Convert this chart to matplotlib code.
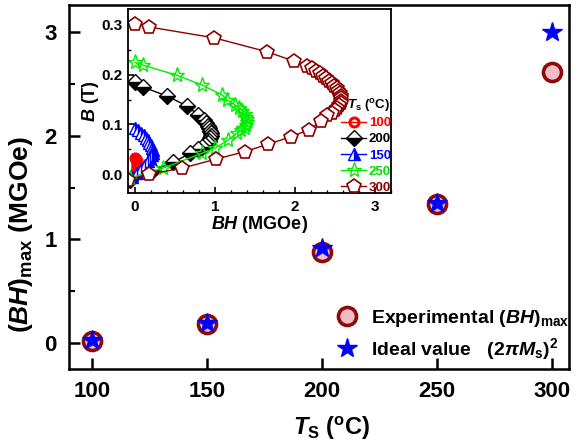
import matplotlib
matplotlib.use('Agg')
import matplotlib.pyplot as plt
from matplotlib.ticker import MultipleLocator, FixedLocator

plt.rcParams['font.family'] = ['Liberation Sans', 'DejaVu Sans']
plt.rcParams['font.weight'] = 'bold'
plt.rcParams['mathtext.fontset'] = 'custom'
plt.rcParams['mathtext.rm'] = 'Liberation Sans:bold'
plt.rcParams['mathtext.it'] = 'Liberation Sans:italic:bold'
plt.rcParams['mathtext.bf'] = 'Liberation Sans:bold'
plt.rcParams['mathtext.sf'] = 'Liberation Sans:bold'

# ---------------- main data ----------------
ts = [100, 150, 200, 250, 300]
bh_exp = [0.02, 0.18, 0.88, 1.34, 2.61]
bh_ideal = [0.03, 0.19, 0.92, 1.35, 3.00]

# ---------------- inset data (BH in MGOe, B in T) ----------------
bh_100 = [0.00, 0.01, 0.02, 0.025, 0.03, 0.03, 0.025, 0.02, 0.01, 0.00]
b_100 = [0.033, 0.030, 0.027, 0.024, 0.021, 0.017, 0.013, 0.009, 0.005, 0.001]

bh_200 = [0.00, 0.10, 0.40, 0.65, 0.79, 0.86, 0.89, 0.91, 0.93, 0.94, 0.95,
          0.95, 0.94, 0.93, 0.91, 0.88, 0.84, 0.79, 0.69, 0.48, 0.23, -0.06]
b_200 = [0.185, 0.175, 0.157, 0.137, 0.119, 0.108, 0.102, 0.097, 0.092, 0.087, 0.082,
         0.077, 0.072, 0.067, 0.062, 0.058, 0.054, 0.050, 0.042, 0.024, 0.008, -0.012]

bh_150 = [0.00, 0.04, 0.08, 0.11, 0.14, 0.16, 0.18, 0.20, 0.21, 0.22, 0.22,
          0.21, 0.19, 0.16, 0.12, 0.07, 0.02, -0.04]
b_150 = [0.093, 0.088, 0.083, 0.078, 0.073, 0.068, 0.063, 0.058, 0.053, 0.048, 0.043,
         0.038, 0.033, 0.026, 0.018, 0.010, 0.003, -0.006]

bh_250 = [0.00, 0.10, 0.52, 0.84, 1.09, 1.15, 1.25, 1.30, 1.34, 1.37, 1.39,
          1.40, 1.40, 1.39, 1.37, 1.33, 1.27, 1.16, 1.00, 0.84, 0.35, -0.06]
b_250 = [0.225, 0.219, 0.199, 0.179, 0.159, 0.149, 0.139, 0.133, 0.127, 0.121, 0.115,
         0.110, 0.104, 0.098, 0.093, 0.088, 0.082, 0.068, 0.052, 0.042, 0.012, -0.008]

bh_300 = [0.00, 0.17, 0.99, 1.65, 1.99, 2.15, 2.21, 2.26, 2.31, 2.35, 2.39, 2.43,
          2.46, 2.49, 2.52, 2.54, 2.56, 2.57, 2.58, 2.58, 2.57, 2.55, 2.53, 2.50,
          2.46, 2.40, 2.33, 2.17, 1.95, 1.66, 1.37, 1.01, 0.59, 0.18, -0.09]
b_300 = [0.302, 0.296, 0.274, 0.246, 0.227, 0.218, 0.213, 0.208, 0.203, 0.198, 0.193, 0.188,
         0.183, 0.178, 0.173, 0.168, 0.163, 0.158, 0.153, 0.148, 0.143, 0.138, 0.133, 0.128,
         0.123, 0.118, 0.106, 0.089, 0.075, 0.060, 0.045, 0.030, 0.012, 0.000, -0.012]

fig = plt.figure(figsize=(5.76, 4.47), dpi=100)
ax = fig.add_axes([0.1198, 0.1745, 0.868, 0.8143])

ax.plot(ts, bh_exp, 'o', ms=13, mfc='#F4BCC4', mec='#8B0A0A', mew=2.6, ls='none',
        zorder=3, label=r'Experimental ($BH$)$_\mathrm{max}$')
ax.plot(ts, bh_ideal, '*', ms=15, color='#0000FF', ls='none', zorder=4,
        label=r'Ideal value   $(2\pi M_\mathrm{s})^2$')

ax.set_xlim(90, 307.5)
ax.set_ylim(-0.25, 3.26)
ax.set_xticks(ts)
ax.set_yticks([0, 1, 2, 3])
ax.yaxis.set_minor_locator(FixedLocator([0.5, 1.5, 2.5]))
ax.tick_params(which='major', direction='in', length=8, width=1.8, labelsize=16, pad=9)
ax.tick_params(which='minor', direction='in', length=4.5, width=1.5)
for s in ax.spines.values():
    s.set_linewidth(1.8)

ax.set_xlabel(r'$T_\mathrm{S}$ ($^\mathrm{o}$C)', fontsize=17, fontweight='bold')
ax.set_ylabel(r'($BH$)$_\mathrm{max}$ (MGOe)', fontsize=19, fontweight='bold')
ax.xaxis.set_label_coords(0.525, -0.125)
ax.yaxis.set_label_coords(-0.068, 0.37)

leg = ax.legend(loc='lower right', bbox_to_anchor=(1.0, 0.02), frameon=False,
                fontsize=14, handlelength=1.0, handletextpad=0.7, borderpad=0,
                borderaxespad=0, labelspacing=0.35)

# ---------------- inset ----------------
axi = fig.add_axes([0.2222, 0.5682, 0.4566, 0.4117])
axi.set_facecolor('white')
axi.plot(bh_100, b_100, '-o', color='#FF0000', mfc='none', mec='#FF0000', ms=6.5, mew=2.2,
         lw=1.0, label='100')
axi.plot(bh_200, b_200, '-D', color='#000000', mfc='#000000', mfcalt='white', fillstyle='bottom',
         mec='#000000', ms=8, mew=1.0, lw=1.0, label='200')
axi.plot(bh_150, b_150, '-^', color='#0000FF', mfc='#0000FF', mfcalt='white', fillstyle='right',
         mec='#0000FF', ms=8, mew=1.0, lw=1.0, label='150')
axi.plot(bh_250, b_250, '-*', color='#00EE00', mfc='none', mec='#00EE00', ms=11, mew=1.0,
         lw=1.0, label='250')
axi.plot(bh_300, b_300, '-p', color='#8B0000', mfc='white', mec='#8B0000', ms=10, mew=1.2,
         lw=1.0, label='300')

axi.set_xlim(-0.0875, 3.2)
axi.set_ylim(-0.038, 0.332)
axi.set_xticks([0, 1, 2, 3])
axi.set_yticks([0.0, 0.1, 0.2, 0.3])
axi.set_yticklabels(['0.0', '0.1', '0.2', '0.3'])
axi.xaxis.set_minor_locator(MultipleLocator(0.2))
axi.yaxis.set_minor_locator(MultipleLocator(0.05))
axi.tick_params(which='major', direction='in', length=4, width=1.2, labelsize=11, pad=4)
axi.tick_params(which='minor', direction='in', length=2.5, width=1.0)
axi.tick_params(axis='x', which='major', pad=5)
for s in axi.spines.values():
    s.set_linewidth(1.3)
axi.set_xlabel(r'$BH$ (MGOe)', fontsize=13, fontweight='bold', labelpad=0)
axi.set_ylabel(r'$B$ (T)', fontsize=13, fontweight='bold', labelpad=0)

li = axi.legend(loc='lower right', bbox_to_anchor=(1.0, -0.005), frameon=False,
                fontsize=9.5, handlelength=1.9, handletextpad=0.2, borderpad=0,
                borderaxespad=0, labelspacing=0.3)
for txt, col in zip(li.get_texts(), ['#FF0000', '#000000', '#0000FF', '#00DD00', '#8B0000']):
    txt.set_color(col)
    txt.set_fontweight('bold')
axi.text(0.995, 0.475, r'$T_\mathrm{s}$ ($^\mathrm{o}$C)', transform=axi.transAxes,
         ha='right', va='center', fontsize=9.5, fontweight='bold', zorder=10)

fig.savefig('out.png', dpi=100)
